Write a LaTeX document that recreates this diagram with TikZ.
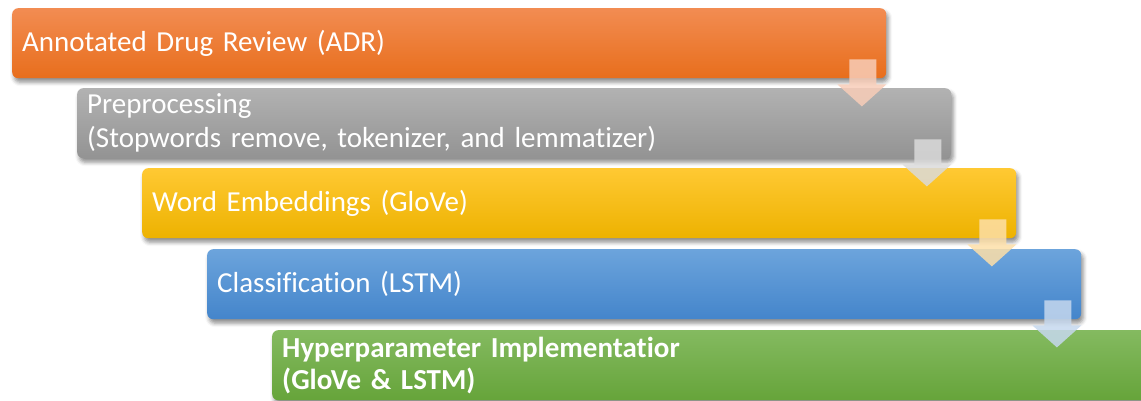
\documentclass[tikz,border=0pt]{standalone}
\usepackage{fontspec}
\setmainfont[WordSpace=0.8,Ligatures=NoCommon]{Carlito}
\usetikzlibrary{calc,shadows.blur}
\definecolor{orTop}{HTML}{F28C52}
\definecolor{orBot}{HTML}{E86E1C}
\definecolor{grTop}{HTML}{B2B2B2}
\definecolor{grBot}{HTML}{939393}
\definecolor{yeTop}{HTML}{FFC933}
\definecolor{yeBot}{HTML}{EDB200}
\definecolor{blTop}{HTML}{6CA4DC}
\definecolor{blBot}{HTML}{4485CB}
\definecolor{gnTop}{HTML}{84BA60}
\definecolor{gnBot}{HTML}{66A43A}
\definecolor{arOr}{HTML}{F8CDB8}
\definecolor{arGr}{HTML}{DADADA}
\definecolor{arYe}{HTML}{FDDFA8}
\definecolor{arBl}{HTML}{C6D8EE}
\tikzset{
  stagebox/.style={rectangle, rounded corners=6pt, minimum width=874pt, minimum height=70pt,
    anchor=north west, inner xsep=10pt, inner ysep=0pt, text width=854pt, align=left,
    text=white, font=\fontsize{29}{34}\selectfont,
    blur shadow={shadow xshift=2pt, shadow yshift=-4pt, shadow blur radius=4pt, shadow opacity=45}},
  flowarrow/.style={fill opacity=0.85, draw=none}
}
\newcommand{\downarrowshape}[2]{%
  \fill[flowarrow, fill=#2] ($(#1)+(-37,19)$) -- ($(#1)+(-10,19)$) -- ($(#1)+(-10,-6)$) -- ($(#1)+(0,-6)$)
    -- ($(#1)+(-24.5,-28)$) -- ($(#1)+(-49,-6)$) -- ($(#1)+(-37,-6)$) -- cycle;}
\begin{document}
\begin{tikzpicture}[x=1pt,y=1pt]
\useasboundingbox (0,0) rectangle (1141,-401);
\node[stagebox, top color=orTop, bottom color=orBot] (b1) at (12,-8) {Annotated Drug Review (ADR)};
\node[stagebox, top color=grTop, bottom color=grBot] (b2) at (77,-88) {Preprocessing\\(Stopwords remove, tokenizer, and lemmatizer)};
\node[stagebox, top color=yeTop, bottom color=yeBot] (b3) at (142,-168) {Word Embeddings (GloVe)};
\node[stagebox, top color=blTop, bottom color=blBot] (b4) at (207,-249) {Classification (LSTM)};
\node[stagebox, top color=gnTop, bottom color=gnBot, minimum width=900pt, text width=880pt, font=\fontsize{29}{32}\selectfont\bfseries] (b5) at (272,-330) {Hyperparameter Implementatior\\(GloVe \& LSTM)};
\downarrowshape{b1.south east}{arOr}
\downarrowshape{b2.south east}{arGr}
\downarrowshape{b3.south east}{arYe}
\downarrowshape{b4.south east}{arBl}
\end{tikzpicture}
\end{document}
